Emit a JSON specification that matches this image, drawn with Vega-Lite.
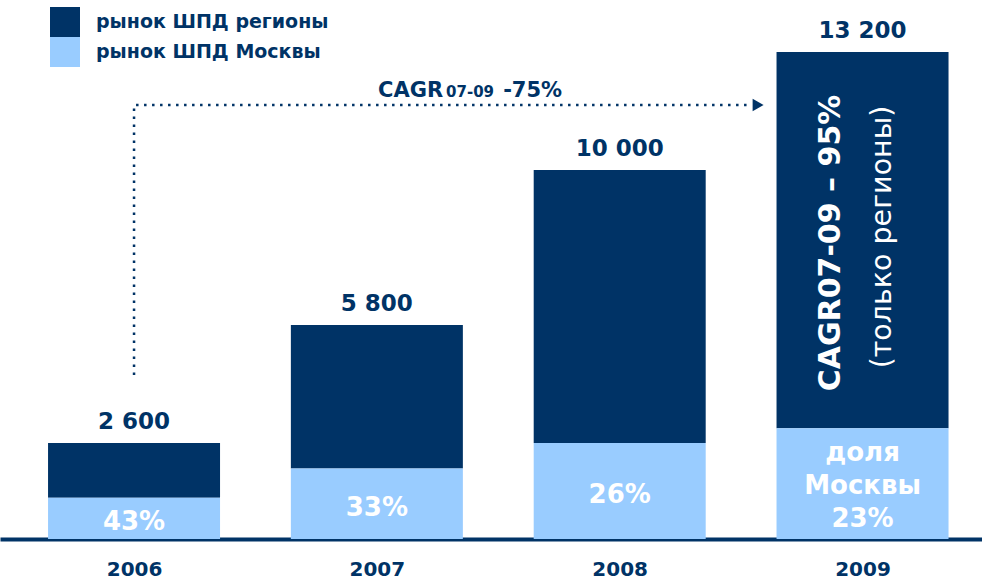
{
  "$schema": "https://vega.github.io/schema/vega-lite/v6.json",
  "width": 982,
  "height": 539,
  "autosize": {"type": "none"},
  "padding": {"left": 0, "top": 0, "right": 0, "bottom": 42},
  "background": "white",
  "config": {
    "view": {"stroke": null},
    "font": "DejaVu Sans",
    "axisX": {
      "domainColor": "#003366",
      "domainWidth": 4,
      "ticks": false,
      "tickSize": 0,
      "grid": false,
      "labelFont": "DejaVu Sans",
      "labelFontSize": 20,
      "labelFontWeight": "bold",
      "labelColor": "#003366",
      "labelPadding": 20
    }
  },
  "datasets": {
    "bars": [
      {"year": 2006, "segment": "рынок ШПД регионы", "value": 1482, "ord": 2, "label": ""},
      {"year": 2006, "segment": "рынок ШПД Москвы", "value": 1118, "ord": 1, "label": "43%"},
      {"year": 2007, "segment": "рынок ШПД регионы", "value": 3886, "ord": 2, "label": ""},
      {"year": 2007, "segment": "рынок ШПД Москвы", "value": 1914, "ord": 1, "label": "33%"},
      {"year": 2008, "segment": "рынок ШПД регионы", "value": 7400, "ord": 2, "label": ""},
      {"year": 2008, "segment": "рынок ШПД Москвы", "value": 2600, "ord": 1, "label": "26%"},
      {"year": 2009, "segment": "рынок ШПД регионы", "value": 10200, "ord": 2, "label": ""},
      {"year": 2009, "segment": "рынок ШПД Москвы", "value": 3000, "ord": 1, "label": "доля\nМосквы\n23%"}
    ],
    "totals": [
      {"year": 2006, "total": 2600, "label": "2 600"},
      {"year": 2007, "total": 5800, "label": "5 800"},
      {"year": 2008, "total": 10000, "label": "10 000"},
      {"year": 2009, "total": 13200, "label": "13 200"}
    ],
    "arrow": [
      {"year": 2006, "v": 4445, "o": 1},
      {"year": 2006, "v": 11763, "o": 2},
      {"year": 2008.545, "v": 11763, "o": 3}
    ],
    "arrowhead": [{"year": 2008.57, "v": 11763}],
    "cagrBig": [
      {"year": 2007.005, "v": 11980, "label": "CAGR"},
      {"year": 2007.52, "v": 11980, "label": "-75%"}
    ],
    "cagrSmall": [{"year": 2007.285, "v": 11980, "label": "07-09"}],
    "rotBold": [{"year": 2008.87, "v": 8023, "label": "CAGR07-09 – 95%"}],
    "rotNormal": [{"year": 2009.08, "v": 8185, "label": "(только регионы)"}]
  },
  "resolve": {"scale": {"y": "independent"}},
  "layer": [
    {
      "data": {"name": "bars"},
      "mark": {"type": "bar", "width": 172},
      "encoding": {
        "x": {"field": "year", "type": "quantitative", "scale": {"domain": [2005.448, 2009.492], "nice": false, "zero": false, "padding": 0}, "axis": {"values": [2006, 2007, 2008, 2009], "format": "d", "title": null}},
        "y": {"field": "value", "type": "quantitative", "stack": "zero", "scale": {"domain": [0, 14609], "nice": false}, "axis": null},
        "color": {
          "field": "segment", "type": "nominal",
          "scale": {"domain": ["рынок ШПД регионы", "рынок ШПД Москвы"], "range": ["#003366", "#99CCFF"]},
          "legend": {
            "orient": "none", "legendX": 50, "legendY": 7, "direction": "vertical", "title": null,
            "symbolType": "square", "symbolSize": 900, "symbolStrokeWidth": 0, "symbolOpacity": 1,
            "labelFont": "DejaVu Sans", "labelFontSize": 19, "labelFontWeight": "bold", "labelColor": "#003366",
            "labelOffset": 16, "labelLimit": 500, "rowPadding": 0, "padding": 0
          }
        },
        "order": {"field": "ord", "type": "quantitative"}
      }
    },
    {
      "data": {"name": "bars"},
      "transform": [{"filter": "datum.ord == 1 && datum.year < 2009"}],
      "mark": {"type": "text", "font": "DejaVu Sans", "fontWeight": "bold", "fontSize": 26, "color": "white", "align": "center", "baseline": "middle", "dy": 4},
      "encoding": {
        "x": {"field": "year", "type": "quantitative", "scale": {"domain": [2005.448, 2009.492], "nice": false, "zero": false, "padding": 0}, "axis": {"values": [2006, 2007, 2008, 2009], "format": "d", "title": null}},
        "y": {"field": "value", "type": "quantitative", "scale": {"domain": [0, 29218], "nice": false}, "axis": null},
        "text": {"field": "label"}
      }
    },
    {
      "data": {"name": "bars"},
      "transform": [{"filter": "datum.ord == 1 && datum.year == 2009"}],
      "mark": {"type": "text", "font": "DejaVu Sans", "fontWeight": "bold", "fontSize": 26, "color": "white", "align": "center", "baseline": "middle", "lineBreak": "\n", "lineHeight": 33, "dy": -31},
      "encoding": {
        "x": {"field": "year", "type": "quantitative", "scale": {"domain": [2005.448, 2009.492], "nice": false, "zero": false, "padding": 0}, "axis": {"values": [2006, 2007, 2008, 2009], "format": "d", "title": null}},
        "y": {"field": "value", "type": "quantitative", "scale": {"domain": [0, 29218], "nice": false}, "axis": null},
        "text": {"field": "label"}
      }
    },
    {
      "data": {"name": "totals"},
      "mark": {"type": "text", "font": "DejaVu Sans", "fontWeight": "bold", "fontSize": 23, "color": "#003366", "align": "center", "baseline": "alphabetic", "dy": -14},
      "encoding": {
        "x": {"field": "year", "type": "quantitative", "scale": {"domain": [2005.448, 2009.492], "nice": false, "zero": false, "padding": 0}, "axis": {"values": [2006, 2007, 2008, 2009], "format": "d", "title": null}},
        "y": {"field": "total", "type": "quantitative", "scale": {"domain": [0, 14609], "nice": false}, "axis": null},
        "text": {"field": "label"}
      }
    },
    {
      "data": {"name": "arrow"},
      "mark": {"type": "line", "color": "#003366", "strokeWidth": 2.5, "strokeDash": [2.5, 5.5], "strokeCap": "butt"},
      "encoding": {
        "x": {"field": "year", "type": "quantitative", "scale": {"domain": [2005.448, 2009.492], "nice": false, "zero": false, "padding": 0}, "axis": {"values": [2006, 2007, 2008, 2009], "format": "d", "title": null}},
        "y": {"field": "v", "type": "quantitative", "scale": {"domain": [0, 14609], "nice": false}, "axis": null},
        "order": {"field": "o", "type": "quantitative"}
      }
    },
    {
      "data": {"name": "arrowhead"},
      "mark": {"type": "point", "shape": "triangle-right", "filled": true, "color": "#003366", "opacity": 1, "size": 160},
      "encoding": {
        "x": {"field": "year", "type": "quantitative", "scale": {"domain": [2005.448, 2009.492], "nice": false, "zero": false, "padding": 0}, "axis": {"values": [2006, 2007, 2008, 2009], "format": "d", "title": null}},
        "y": {"field": "v", "type": "quantitative", "scale": {"domain": [0, 14609], "nice": false}, "axis": null}
      }
    },
    {
      "data": {"name": "cagrBig"},
      "mark": {"type": "text", "font": "DejaVu Sans", "fontWeight": "bold", "fontSize": 21, "color": "#003366", "align": "left", "baseline": "alphabetic"},
      "encoding": {
        "x": {"field": "year", "type": "quantitative", "scale": {"domain": [2005.448, 2009.492], "nice": false, "zero": false, "padding": 0}, "axis": {"values": [2006, 2007, 2008, 2009], "format": "d", "title": null}},
        "y": {"field": "v", "type": "quantitative", "scale": {"domain": [0, 14609], "nice": false}, "axis": null},
        "text": {"field": "label"}
      }
    },
    {
      "data": {"name": "cagrSmall"},
      "mark": {"type": "text", "font": "DejaVu Sans", "fontWeight": "bold", "fontSize": 15, "color": "#003366", "align": "left", "baseline": "alphabetic"},
      "encoding": {
        "x": {"field": "year", "type": "quantitative", "scale": {"domain": [2005.448, 2009.492], "nice": false, "zero": false, "padding": 0}, "axis": {"values": [2006, 2007, 2008, 2009], "format": "d", "title": null}},
        "y": {"field": "v", "type": "quantitative", "scale": {"domain": [0, 14609], "nice": false}, "axis": null},
        "text": {"field": "label"}
      }
    },
    {
      "data": {"name": "rotBold"},
      "mark": {"type": "text", "font": "DejaVu Sans", "fontWeight": "bold", "fontSize": 30, "color": "white", "align": "center", "baseline": "middle", "angle": 270},
      "encoding": {
        "x": {"field": "year", "type": "quantitative", "scale": {"domain": [2005.448, 2009.492], "nice": false, "zero": false, "padding": 0}, "axis": {"values": [2006, 2007, 2008, 2009], "format": "d", "title": null}},
        "y": {"field": "v", "type": "quantitative", "scale": {"domain": [0, 14609], "nice": false}, "axis": null},
        "text": {"field": "label"}
      }
    },
    {
      "data": {"name": "rotNormal"},
      "mark": {"type": "text", "font": "DejaVu Sans", "fontWeight": "normal", "fontSize": 28.5, "color": "white", "align": "center", "baseline": "middle", "angle": 270},
      "encoding": {
        "x": {"field": "year", "type": "quantitative", "scale": {"domain": [2005.448, 2009.492], "nice": false, "zero": false, "padding": 0}, "axis": {"values": [2006, 2007, 2008, 2009], "format": "d", "title": null}},
        "y": {"field": "v", "type": "quantitative", "scale": {"domain": [0, 14609], "nice": false}, "axis": null},
        "text": {"field": "label"}
      }
    }
  ]
}
